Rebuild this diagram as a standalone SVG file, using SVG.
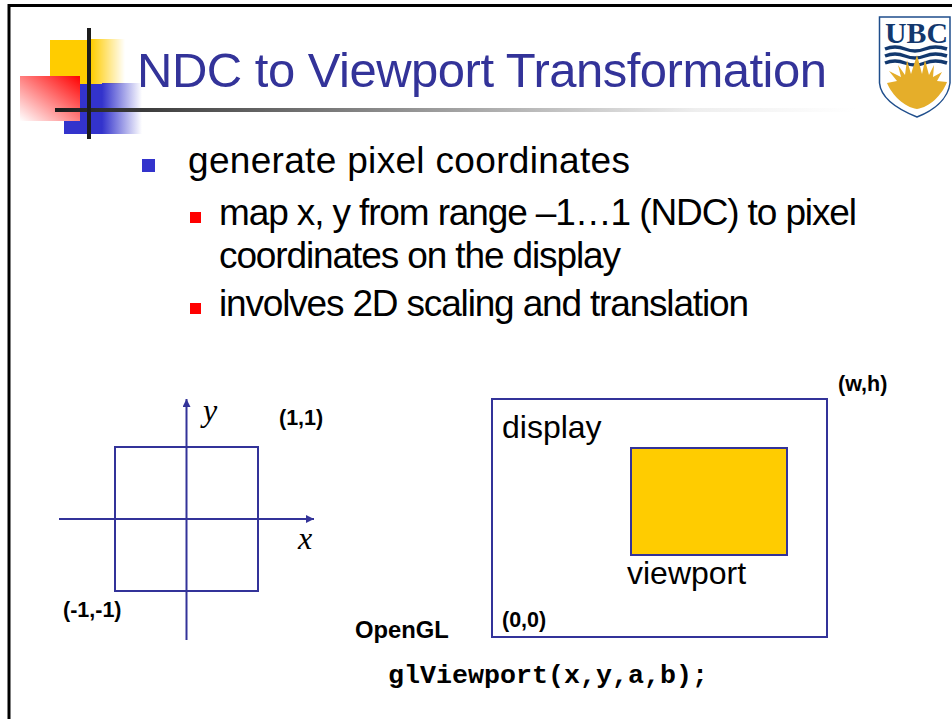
<svg xmlns="http://www.w3.org/2000/svg" width="952" height="719" viewBox="0 0 952 719">
<style>
.body{font-family:"Liberation Sans",Arial,sans-serif;font-size:37px;fill:#000}
.lab{font-family:"Liberation Sans",Arial,sans-serif;font-size:21.500px;font-weight:bold;fill:#000}
.arial{font-family:"Liberation Sans",Arial,sans-serif;font-size:32px;fill:#000}
.it{font-family:"Liberation Serif","Times New Roman",serif;font-size:32px;font-style:italic;fill:#000}
.ln{fill:none;stroke:#333399;stroke-width:2}
</style>
<defs>
<linearGradient id="gy" x1="0" x2="1" y1="0" y2="0"><stop offset="0" stop-color="#ffcc00"/><stop offset="1" stop-color="#ffcc00" stop-opacity="0"/></linearGradient>
<linearGradient id="gb" x1="0" x2="1" y1="0" y2="0"><stop offset="0" stop-color="#3333cc"/><stop offset="1" stop-color="#3333cc" stop-opacity="0"/></linearGradient>
<linearGradient id="gr" x1="1" x2="0" y1="0" y2="1"><stop offset="0" stop-color="#ff0000"/><stop offset="1" stop-color="#ffffff"/></linearGradient>
<linearGradient id="gl" x1="0" x2="1" y1="0" y2="0"><stop offset="0" stop-color="#1c1c1c"/><stop offset="0.18" stop-color="#505050"/><stop offset="0.8" stop-color="#eeeeee"/><stop offset="1" stop-color="#ffffff"/></linearGradient>
<marker id="arr" markerUnits="userSpaceOnUse" markerWidth="9" markerHeight="8" refX="8" refY="4" orient="auto"><path d="M0 0L8 4L0 8Z" fill="#333399"/></marker>
</defs>
<rect width="952" height="719" fill="#fff"/>
<path id="frame" d="M9 719V5.500H952" fill="none" stroke="#000" stroke-width="3"/>
<g id="decoration">
<rect x="50" y="40" width="41" height="44" fill="#ffcc00"/>
<rect x="91" y="39" width="34" height="45" fill="url(#gy)"/>
<rect x="64" y="84" width="38" height="50" fill="#3333cc"/>
<rect x="102" y="83" width="40" height="51" fill="url(#gb)"/>
<rect x="20" y="76" width="60" height="45" fill="url(#gr)"/>
<rect x="55" y="108" width="800" height="4" fill="url(#gl)"/>
<rect x="87" y="28" width="4" height="111" fill="#1c1c1c"/>
</g>
<g id="logo">
<path d="M879.500 17H950V83C948 100 932 111 917 117C902 111 881 100 879.500 83Z" fill="#fff" stroke="#1f4e8c" stroke-width="1.500"/>
<path d="M885 49Q895 45 905 49T925 49T947 49M885 56Q895 52 905 56T925 56T947 56M885 63Q895 59 905 63T925 63T947 63" fill="none" stroke="#12386e" stroke-width="3.500"/>
<path d="M887 83L897 81L889 71L901 77L898 65L905 75L907 60L911 74L917 55L922 74L925 60L929 75L934 65L933 77L942 72L937 81L947 82C942 95 930 107 917 109C904 107 892 95 887 83Z" fill="#e5ae2a"/>
<text x="885" y="43" textLength="63" lengthAdjust="spacingAndGlyphs" style="font-family:'Liberation Serif',serif;font-weight:bold;font-size:30px;fill:#12386e">UBC</text>
</g>
<text id="title" x="137" y="87" textLength="690" style="font-family:'Liberation Sans',Arial,sans-serif;font-size:49px;fill:#333399">NDC to Viewport Transformation</text>
<g id="bullets">
<rect x="142" y="159" width="13" height="13" fill="#3333cc"/>
<rect x="190" y="212" width="11" height="11" fill="#ff0000"/>
<rect x="190" y="303" width="11" height="11" fill="#ff0000"/>
<text class="body" x="188" y="173" textLength="442">generate pixel coordinates</text>
<text class="body" x="219" y="225" textLength="638">map x, y from range –1…1 (NDC) to pixel</text>
<text class="body" x="219" y="268" textLength="402">coordinates on the display</text>
<text class="body" x="219" y="316" textLength="530">involves 2D scaling and translation</text>
</g>
<g id="connectors">
<line class="ln" x1="186.500" y1="640" x2="186.500" y2="399" marker-end="url(#arr)"/>
<line class="ln" x1="59" y1="519" x2="314" y2="519" marker-end="url(#arr)"/>
</g>
<g id="ndc-square"><rect class="ln" x="115" y="447" width="143" height="144"/></g>
<text class="it" x="203" y="421">y</text>
<text class="it" x="298" y="549">x</text>
<text class="lab" x="279" y="425">(1,1)</text>
<text class="lab" x="63" y="617">(-1,-1)</text>
<g id="display">
<rect class="ln" x="492" y="399" width="335" height="238"/>
<text class="arial" x="502" y="438">display</text>
</g>
<g id="viewport">
<rect x="631" y="448" width="156" height="107" fill="#ffcc00" stroke="#333399" stroke-width="2"/>
<text class="arial" x="627" y="584">viewport</text>
</g>
<text class="lab" x="838" y="391">(w,h)</text>
<text class="lab" x="502" y="627">(0,0)</text>
<text class="lab" x="355" y="638" style="font-size:23.800px">OpenGL</text>
<text x="388" y="683" style="font-family:'Liberation Mono',monospace;font-weight:bold;font-size:26.670px;fill:#000">glViewport(x,y,a,b);</text>
</svg>
